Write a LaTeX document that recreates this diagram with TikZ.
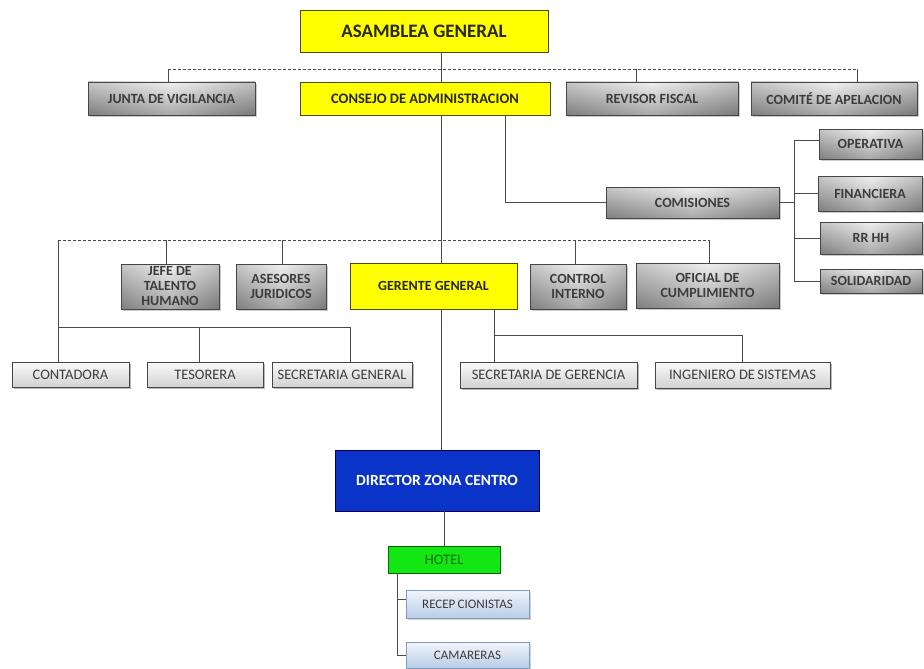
\documentclass[tikz,border=0pt]{standalone}
\usepackage{fontspec}
\setmainfont{Carlito}
\usetikzlibrary{shadows,calc}

\definecolor{ink}{HTML}{3C3C3C}
\definecolor{yel}{HTML}{FFFF00}
\definecolor{yelborder}{HTML}{4A4A18}
\definecolor{dirblue}{HTML}{0A33C8}
\definecolor{hotelgreen}{HTML}{14E614}
\definecolor{lineclr}{HTML}{4A4A4A}
\definecolor{paletop}{HTML}{F2F6FC}
\definecolor{palebot}{HTML}{B8CCE6}
\definecolor{paleedge}{HTML}{7F9DC0}

\tikzset{
  box/.style={rectangle, inner sep=0pt, align=center, text=ink},
  graybox/.style={box, draw=gray!55!black, line width=0.6pt,
    left color=gray!62, right color=gray!68, middle color=gray!16,
    path picture={\shade[top color=white, bottom color=black, opacity=0.28]
      (path picture bounding box.south west) rectangle (path picture bounding box.north east);},
    drop shadow={shadow xshift=2pt, shadow yshift=-2pt, opacity=.4},
    font=\fontsize{14}{15}\selectfont\bfseries},
  lightbox/.style={box, draw=gray!55!black, line width=0.6pt,
    top color=gray!4, bottom color=gray!35,
    drop shadow={shadow xshift=2pt, shadow yshift=-2pt, opacity=.55},
    font=\fontsize{14.5}{16}\selectfont},
  yelbox/.style={box, draw=yelborder, line width=0.9pt, fill=yel, text=black!85},
  bluebox/.style={box, draw=black!70!blue, line width=0.9pt, fill=dirblue, text=white,
    font=\fontsize{15.5}{17}\selectfont\bfseries},
  greenbox/.style={box, draw=black!60!green, line width=0.9pt, fill=hotelgreen,
    text=black!55!green, font=\fontsize{14.5}{16}\selectfont},
  paleblue/.style={box, draw=paleedge, line width=0.6pt,
    top color=paletop, bottom color=palebot,
    drop shadow={shadow xshift=2pt, shadow yshift=-2pt, opacity=.35},
    font=\fontsize{13}{15}\selectfont},
  link/.style={draw=lineclr, line width=0.9pt},
  dashlink/.style={draw=lineclr, line width=0.9pt, dash pattern=on 3pt off 2pt},
}

\begin{document}
\begin{tikzpicture}[x=1pt, y=-1pt]
\useasboundingbox (0,0) rectangle (924,669);

% top level
\node[yelbox, minimum width=248, minimum height=42, font=\fontsize{19}{21}\selectfont\bfseries]
  (asm) at (424,31) {ASAMBLEA GENERAL};

% first row of boards
\node[graybox, minimum width=167, minimum height=33] (jv) at (171.5,98.5) {JUNTA DE VIGILANCIA};
\node[yelbox, minimum width=250, minimum height=33, font=\fontsize{14.5}{16}\selectfont\bfseries]
  (cons) at (425,98.5) {CONSEJO DE ADMINISTRACION};
\node[graybox, minimum width=172, minimum height=33] (rf) at (652,98.5) {REVISOR FISCAL};
\node[graybox, minimum width=166, minimum height=33] (cap) at (834,98.5) {COMITÉ DE APELACION};

% commissions
\node[graybox, minimum width=173, minimum height=31] (com) at (692.5,202.5) {COMISIONES};
\node[graybox, minimum width=103, minimum height=30] (op) at (870.5,144) {OPERATIVA};
\node[graybox, minimum width=104, minimum height=35] (fin) at (870,193.5) {FINANCIERA};
\node[graybox, minimum width=102, minimum height=32] (rr) at (871,238) {RR HH};
\node[graybox, minimum width=102, minimum height=24] (sol) at (871,281) {SOLIDARIDAD};

% management row
\node[graybox, minimum width=98, minimum height=45] (jefe) at (170,286.5) {JEFE DE\\TALENTO\\HUMANO};
\node[graybox, minimum width=90, minimum height=45] (ase) at (281,286.5) {ASESORES\\JURIDICOS};
\node[yelbox, minimum width=167, minimum height=46, font=\fontsize{14}{16}\selectfont\bfseries]
  (ger) at (433.5,286) {GERENTE GENERAL};
\node[graybox, minimum width=96, minimum height=45] (ctl) at (578,286.5) {CONTROL\\INTERNO};
\node[graybox, minimum width=143, minimum height=45] (ofi) at (707.5,285.5) {OFICIAL DE\\CUMPLIMIENTO};

% staff row
\node[lightbox, minimum width=117, minimum height=25] (cont) at (70.5,374.5) {CONTADORA};
\node[lightbox, minimum width=116, minimum height=25] (tes) at (205,374.5) {TESORERA};
\node[lightbox, minimum width=140, minimum height=25] (sg) at (342,374.5) {SECRETARIA GENERAL};
\node[lightbox, minimum width=177, minimum height=26] (sgr) at (548.5,375) {SECRETARIA DE GERENCIA};
\node[lightbox, minimum width=175, minimum height=26] (ing) at (742.5,375) {INGENIERO DE\,SISTEMAS};

% zone
\node[bluebox, minimum width=204, minimum height=61] (dir) at (437,480.5) {DIRECTOR ZONA CENTRO};
\node[greenbox, minimum width=112, minimum height=27] (hotel) at (444,559.5) {HOTEL};
\node[paleblue, minimum width=123, minimum height=28] (rec) at (467.5,604) {RECEP\,CIONISTAS};
\node[paleblue, minimum width=123, minimum height=26] (cam) at (467.5,655) {CAMARERAS};

% x positions of the vertical runs
\coordinate (trunk) at (441,0);
\coordinate (consR) at (505,0);
\coordinate (busC) at (794,0);
\coordinate (gerR) at (494,0);
\coordinate (lowL) at (58,0);
\coordinate (hotB) at (397,0);
\coordinate (dirB) at (444,0);
\coordinate (jvX) at (168,0);
\coordinate (rfX) at (636,0);
\coordinate (capX) at (857,0);
\coordinate (jefeX) at (166,0);
\coordinate (aseX) at (282,0);
\coordinate (ctlX) at (575,0);
\coordinate (ofiX) at (709,0);
\coordinate (tesX) at (199,0);
\coordinate (sgX) at (350,0);
% y positions of the horizontal runs
\coordinate (dashA) at (0,69);
\coordinate (dashB) at (0,240);
\coordinate (staffY) at (0,327);
\coordinate (gerY) at (0,335);
\coordinate (opY) at (0,140);
\coordinate (recY) at (0,599);

% main trunk
\draw[link] (asm.south -| trunk) -- (cons.north -| trunk);
\draw[link] (cons.south -| trunk) -- (ger.north -| trunk);
\draw[link] (ger.south -| trunk) -- (dir.north -| trunk);

% advisory line under the assembly
\draw[dashlink] (dashA -| jvX) -- (dashA -| capX);
\draw[link] (dashA -| jvX) -- (jv.north -| jvX);
\draw[link] (dashA -| rfX) -- (rf.north -| rfX);
\draw[link] (dashA -| capX) -- (cap.north -| capX);

% commissions branch
\draw[link] (cons.south -| consR) |- (com.west);
\draw[link] (com.east) -- (com.east -| busC);
\draw[link] (opY -| busC) -- (sol.west -| busC);
\draw[link] (opY -| busC) -- (opY -| op.west);
\draw[link] (fin.west -| busC) -- (fin.west);
\draw[link] (rr.west -| busC) -- (rr.west);
\draw[link] (sol.west -| busC) -- (sol.west);

% staff line under the board
\draw[dashlink] (dashB -| lowL) -- (dashB -| ofiX);
\draw[link] (dashB -| jefeX) -- (jefe.north -| jefeX);
\draw[link] (dashB -| aseX) -- (ase.north -| aseX);
\draw[link] (dashB -| ctlX) -- (ctl.north -| ctlX);
\draw[link] (dashB -| ofiX) -- (ofi.north -| ofiX);
\draw[link] (dashB -| lowL) -- (cont.north -| lowL);
\draw[link] (staffY -| lowL) -- (staffY -| sgX) -- (sg.north -| sgX);
\draw[link] (staffY -| tesX) -- (tes.north -| tesX);

% manager's own staff
\draw[link] (ger.south -| gerR) -- (sgr.north -| gerR);
\draw[link] (gerY -| gerR) -| (ing.north);

% hotel
\draw[link] (dir.south -| dirB) -- (hotel.north -| dirB);
\draw[link] (hotel.south -| hotB) |- (cam.west);
\draw[link] (recY -| hotB) -- (recY -| rec.west);
\end{tikzpicture}
\end{document}
